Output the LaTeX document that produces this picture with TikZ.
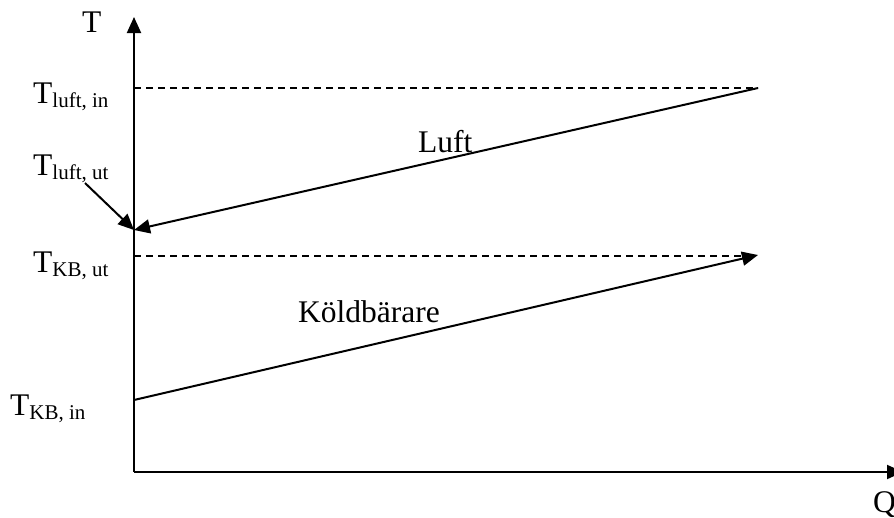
\documentclass[tikz,border=0pt]{standalone}
\usepackage{fontspec}
\setmainfont{Liberation Serif}
\usetikzlibrary{arrows.meta}
\newcommand{\bigT}[1]{T{\fontsize{21}{21}\selectfont\raisebox{-4pt}{#1}}}
\tikzset{
  lbl/.style={anchor=base west, inner sep=0pt, font=\fontsize{31.5}{31.5}\selectfont},
  solidline/.style={line width=2pt},
  dashline/.style={line width=1.5pt, dash pattern=on 7pt off 5pt},
  tip/.style={-{Triangle[length=16pt,width=14pt]}}
}
\begin{document}
\begin{tikzpicture}[x=1pt,y=-1pt]
\useasboundingbox (0,0) rectangle (894,517);
\coordinate (O) at (134,472);
\coordinate (Ytop) at (134,17);
\coordinate (Xend) at (903,472);
\coordinate (Lin0) at (134,88);
\coordinate (Lin1) at (758,88);
\coordinate (Lut) at (134,230);
\coordinate (Kin) at (134,400);
\coordinate (Kut0) at (134,256);
\coordinate (Kut1) at (745,256);
\coordinate (Kend) at (758,255);
\coordinate (Ast) at (85,183);

\draw[solidline,tip] (O) -- (Ytop);
\draw[solidline,tip] (O) -- (Xend);
\draw[dashline] (Lin0) -- (Lin1);
\draw[dashline] (Kut0) -- (Kut1);
\draw[solidline,tip] (Lin1) -- (Lut);
\draw[solidline,tip] (Kin) -- (Kend);
\draw[solidline,tip] (Ast) -- (Lut);

\node[lbl] (lT) at (82,32) {T};
\node[lbl] (lQ) at (873,512) {Q};
\node[lbl] (lLin) at (33,103) {\bigT{luft, in}};
\node[lbl] (lLut) at (33,175) {\bigT{luft, ut}};
\node[lbl] (lKut) at (33,272) {\bigT{KB, ut}};
\node[lbl] (lKin) at (10,415) {\bigT{KB, in}};
\node[lbl] (lLuft) at (418,152) {Luft};
\node[lbl] (lKB) at (298,322) {Köldbärare};
\end{tikzpicture}
\end{document}
